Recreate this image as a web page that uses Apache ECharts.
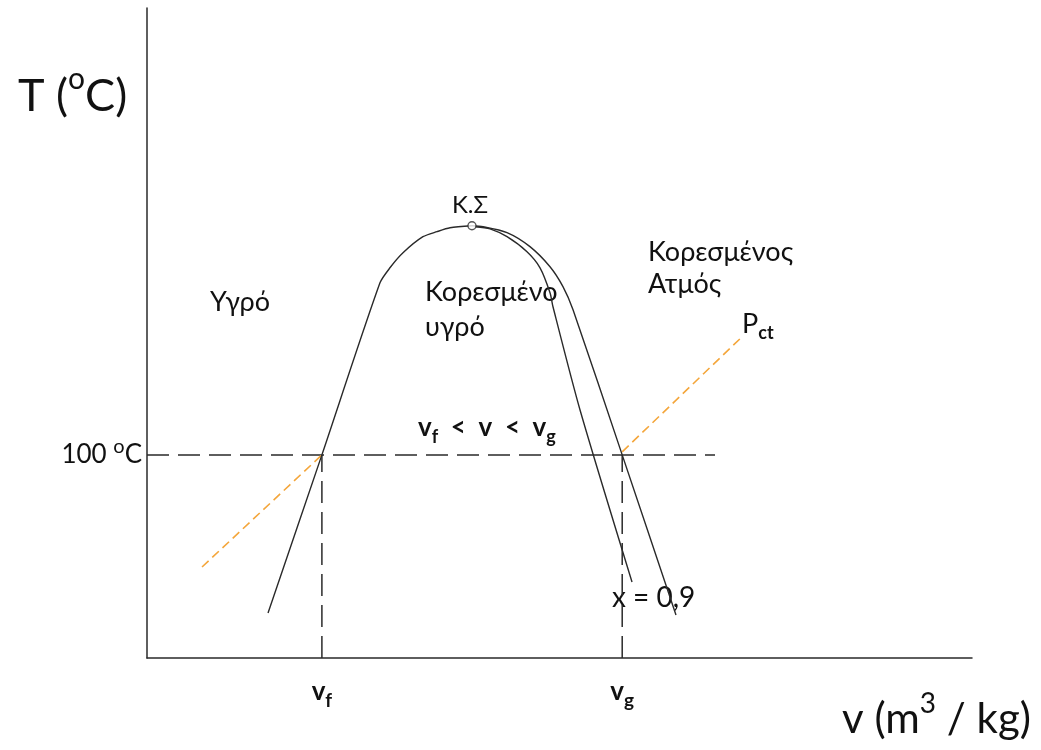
<!DOCTYPE html>
<html>
<head>
<meta charset="utf-8">
<script src="https://cdn.jsdelivr.net/npm/echarts@6/dist/echarts.min.js"></script>
<style>
html,body{margin:0;padding:0;background:#fff;}
#chart{width:1041px;height:750px;}
</style>
</head>
<body>
<div id="chart"></div>
<script>
// Axis ranges (arbitrary schematic units)
const vRange = [0, 100];
const TRange = [0, 320];
// Key values
const vf = 21.2;
const vg = 57.6;
const T100 = 100;
const vDashEnd = 68.85;
// Saturated liquid line [v, T]
const satLiquid = [[14.67,22.2],[21.2,100],[28.24,184.7],[29.45,192.1],[31.03,199.5],[33.45,207.4],[35.15,209.9],[36.73,211.8],[39.39,212.8]];
// Saturated vapour line [v, T]
const satVapour = [[39.39,212.8],[40.73,212.3],[43.64,209.4],[46.42,202.5],[48.85,192.6],[50.42,182.8],[51.64,171.4],[57.6,100],[64.12,21.2]];
// Quality x = 0.9 line [v, T]
const quality09 = [[39.76,212.3],[41.58,211.3],[43.64,207.4],[46.06,200.0],[47.64,192.1],[48.85,179.8],[49.21,172.9],[52.48,122.2],[58.79,37.4]];
// Constant pressure line pieces (orange)
const isobarLeft = [[6.67,44.8],[21.2,100]];
const isobarRight = [[57.6,101.5],[72.12,158.1]];
// Critical point
const criticalPoint = [[39.39,212.8]];
// Tick labels
const xTickValues = [vf, vg];
const xTickLabels = ['v{sub|f}', 'v{sub|g}'];
const yTickValues = [T100];
const yTickLabels = ['100 {sup|o}C'];

const FONT = 'Lato, "Open Sans", sans-serif';
const INK = '#2a2a2a';

const chart = echarts.init(document.getElementById('chart'), null, {renderer:'canvas'});

function lineSeries(data, opts) {
  return Object.assign({
    type: 'line', data: data, symbol: 'none', silent: true, animation: false,
    lineStyle: {color: INK, width: 1.4}
  }, opts || {});
}

const option = {
  animation: false,
  backgroundColor: '#fff',
  grid: {left: 147, top: 8, right: 69, bottom: 92, containLabel: false},
  xAxis: {
    type: 'value', min: vRange[0], max: vRange[1],
    axisLine: {show: true, lineStyle: {color: INK, width: 1.5}},
    axisTick: {show: false},
    splitLine: {show: false},
    axisLabel: {
      show: true, margin: 16,
      customValues: xTickValues,
      formatter: function (val) {
        const i = xTickValues.findIndex(function (x) { return Math.abs(x - val) < 1e-6; });
        return i >= 0 ? xTickLabels[i] : '';
      },
      fontFamily: FONT, fontSize: 26, fontWeight: 'bold', color: '#111',
      lineHeight: 26,
      rich: {
        sub: {fontFamily: FONT, fontSize: 19, fontWeight: 'bold', color: '#111', verticalAlign: 'bottom', lineHeight: 36}
      }
    }
  },
  yAxis: {
    type: 'value', min: TRange[0], max: TRange[1],
    axisLine: {show: true, lineStyle: {color: INK, width: 1.5}},
    axisTick: {show: false},
    splitLine: {show: false},
    axisLabel: {
      show: true, margin: 5,
      customValues: yTickValues,
      formatter: function (val) {
        const i = yTickValues.findIndex(function (x) { return Math.abs(x - val) < 1e-6; });
        return i >= 0 ? yTickLabels[i] : '';
      },
      fontFamily: FONT, fontSize: 26, color: '#111', lineHeight: 36,
      rich: {
        sup: {fontFamily: FONT, fontSize: 20, color: '#111', verticalAlign: 'top', lineHeight: 14}
      }
    }
  },
  series: [
    lineSeries([[0, T100], [vDashEnd, T100]], {lineStyle: {color: INK, width: 1.5, type: [22, 9]}}),
    lineSeries([[vf, 0], [vf, T100]], {lineStyle: {color: INK, width: 1.5, type: [22, 9]}}),
    lineSeries([[vg, 0], [vg, T100]], {lineStyle: {color: INK, width: 1.5, type: [22, 9]}}),
    lineSeries(isobarLeft, {lineStyle: {color: '#f4a63b', width: 1.6, type: [9, 5]}}),
    lineSeries(isobarRight, {lineStyle: {color: '#f4a63b', width: 1.6, type: [9, 5]}}),
    lineSeries(satLiquid, {smooth: 0.25}),
    lineSeries(satVapour, {smooth: 0.25}),
    lineSeries(quality09, {smooth: 0.25}),
    {
      type: 'scatter', data: criticalPoint, symbol: 'circle', symbolSize: 8, silent: true,
      itemStyle: {color: '#fff', borderColor: INK, borderWidth: 1.4}, z: 5
    }
  ],
  graphic: [
    {type: 'text', left: 18, top: 64, style: {
      text: 'T ({sup|o}C)', fontFamily: FONT, fontSize: 45, fill: '#111', lineHeight: 64,
      rich: {sup: {fontFamily: FONT, fontSize: 30, fill: '#111', verticalAlign: 'top', lineHeight: 22}}
    }},
    {type: 'text', left: 842, top: 690, style: {
      text: 'v (m{sup|3} / kg)', fontFamily: FONT, fontSize: 42, fill: '#111', lineHeight: 58,
      rich: {sup: {fontFamily: FONT, fontSize: 28, fill: '#111', verticalAlign: 'top', lineHeight: 24}}
    }},
    {type: 'text', x: 470, y: 205, style: {text: 'Κ.Σ', fontFamily: FONT, fontSize: 24, fill: '#111', align: 'center', verticalAlign: 'middle'}},
    {type: 'text', x: 210, y: 302, style: {text: 'Υγρό', fontFamily: FONT, fontSize: 27, fill: '#111', verticalAlign: 'middle'}},
    {type: 'text', x: 425, y: 292, style: {text: 'Κορεσμένο', fontFamily: FONT, fontSize: 27, fill: '#111', verticalAlign: 'middle'}},
    {type: 'text', x: 425, y: 327, style: {text: 'υγρό', fontFamily: FONT, fontSize: 27, fill: '#111', verticalAlign: 'middle'}},
    {type: 'text', x: 648, y: 252, style: {text: 'Κορεσμένος', fontFamily: FONT, fontSize: 27, fill: '#111', verticalAlign: 'middle'}},
    {type: 'text', x: 648, y: 284, style: {text: 'Ατμός', fontFamily: FONT, fontSize: 27, fill: '#111', verticalAlign: 'middle'}},
    {type: 'text', x: 742, y: 306, style: {
      text: 'P{sub|ct}', fontFamily: FONT, fontSize: 27, fill: '#111', lineHeight: 27,
      rich: {sub: {fontFamily: FONT, fontSize: 18, fontWeight: 'bold', fill: '#111', verticalAlign: 'bottom', lineHeight: 36}}
    }},
    {type: 'text', x: 418, y: 410, style: {
      text: 'v{sub|f}  <  v  <  v{sub|g}', fontFamily: FONT, fontSize: 26, fontWeight: 'bold', fill: '#111', lineHeight: 26,
      rich: {sub: {fontFamily: FONT, fontSize: 18, fontWeight: 'bold', fill: '#111', verticalAlign: 'bottom', lineHeight: 36}}
    }},
    {type: 'text', x: 612, y: 598, style: {text: 'x = 0,9', fontFamily: FONT, fontSize: 28, fill: '#111', verticalAlign: 'middle'}}
  ]
};
chart.setOption(option);
</script>
</body>
</html>
